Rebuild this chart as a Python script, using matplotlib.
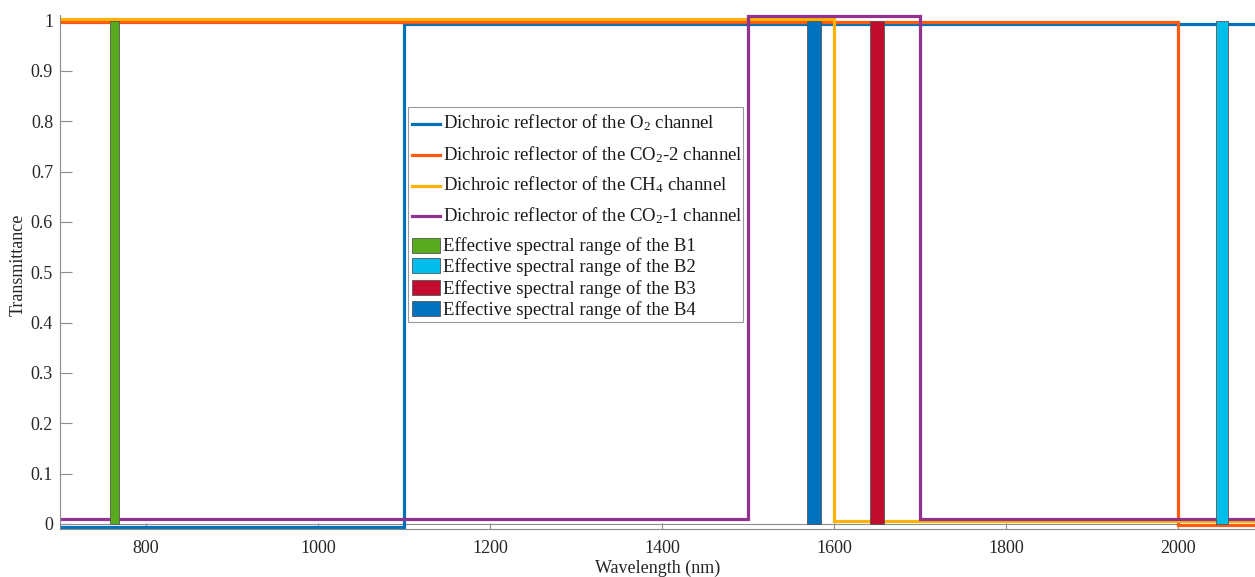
import matplotlib
matplotlib.use("Agg")
import matplotlib.pyplot as plt
from matplotlib.patches import Rectangle
from matplotlib.lines import Line2D

plt.rcParams['font.family'] = ['Liberation Serif', 'DejaVu Serif']
plt.rcParams['mathtext.fontset'] = 'custom'
plt.rcParams['mathtext.rm'] = 'Liberation Serif'
plt.rcParams['mathtext.it'] = 'Liberation Serif:italic'

# Step curves (wavelength breakpoints, transmittance levels)
o2_x = [700, 1100, 1100, 2100]
o2_y = [-0.006, -0.006, 0.994, 0.994]
co2_2_x = [700, 2000, 2000, 2100]
co2_2_y = [0.998, 0.998, -0.002, -0.002]
ch4_x = [700, 1600, 1600, 2100]
ch4_y = [1.003, 1.003, 0.005, 0.005]
co2_1_x = [700, 1500, 1500, 1700, 1700, 2100]
co2_1_y = [0.01, 0.01, 1.01, 1.01, 0.01, 0.01]

# Effective spectral ranges (start, end) and height
band_names = ['B1', 'B2', 'B3', 'B4']
band_start = [758, 2044, 1642, 1568]
band_end = [769, 2058, 1658, 1584]
band_height = [1.0, 1.0, 1.0, 1.0]
band_colors = ['#5AAA1F', '#00BEEB', '#C00D2E', '#0072BD']

xticks = [800, 1000, 1200, 1400, 1600, 1800, 2000]
yticks = [0, 0.1, 0.2, 0.3, 0.4, 0.5, 0.6, 0.7, 0.8, 0.9, 1]
ytick_labels = ['0', '0.1', '0.2', '0.3', '0.4', '0.5', '0.6', '0.7', '0.8', '0.9', '1']

line_labels = [r'Dichroic reflector of the O$_2$ channel',
               r'Dichroic reflector of the CO$_2$-2 channel',
               r'Dichroic reflector of the CH$_4$ channel',
               r'Dichroic reflector of the CO$_2$-1 channel']
line_colors = ['#0072BD', '#FF5A0F', '#FFB300', '#93318F']

W, H = 1255, 577
fig = plt.figure(figsize=(W / 100, H / 100), dpi=100)
ax = fig.add_axes([60 / W, 48 / H, (W - 60) / W, 528.5 / H])
ax.set_xlim(700, 2089)
ax.set_ylim(-0.01, 1.04)

grey = '#8c8c8c'
ax.axhline(0, color=grey, lw=0.8, zorder=1)

lw = 2.3
series = [(o2_x, o2_y), (co2_2_x, co2_2_y), (ch4_x, ch4_y), (co2_1_x, co2_1_y)]
for (x, y), c in zip(series, line_colors):
    ax.plot(x, y, color=c, lw=lw, zorder=2, solid_joinstyle='miter')

for s, e, h, c in zip(band_start, band_end, band_height, band_colors):
    ax.bar(s, h, width=e - s, align='edge', color=c, edgecolor='#555555',
           linewidth=0.6, zorder=3)

ax.spines['top'].set_visible(False)
ax.spines['right'].set_visible(False)
ax.spines['left'].set_color(grey)
ax.spines['left'].set_bounds(-0.01, 1.012)
ax.spines['bottom'].set_color(grey)
ax.set_xticks(xticks)
ax.set_yticks(yticks)
ax.set_yticklabels(ytick_labels)
ax.tick_params(axis='both', direction='in', colors=grey, labelcolor='#262626',
               labelsize=13, width=0.8)
ax.tick_params(axis='y', length=8.6, pad=5)
ax.tick_params(axis='x', length=4.5, pad=8)
ax.set_xlabel('Wavelength (nm)', fontsize=13, color='#262626', labelpad=2)
ax.set_ylabel('Transmittance', fontsize=13, color='#262626', labelpad=3)

# Legend (drawn manually, positions in figure pixels)
def fx(px):
    return px / W

def fy(py):
    return 1 - py / H

frame = Rectangle((fx(408), fy(321.5)), fx(743) - fx(408), fy(107) - fy(321.5),
                  transform=fig.transFigure, facecolor='white', edgecolor='#999999',
                  linewidth=0.8, zorder=10)
fig.add_artist(frame)

line_handle_y = [124, 155.5, 186, 216.5]
line_text_base = [128.5, 160, 190.5, 221]
for c, lab, hy, ty in zip(line_colors, line_labels, line_handle_y, line_text_base):
    fig.add_artist(Line2D([fx(412), fx(440)], [fy(hy), fy(hy)], color=c, lw=lw,
                          transform=fig.transFigure, zorder=11))
    fig.text(fx(443), fy(ty), lab, fontsize=13.5, color='#1a1a1a', va='baseline',
             ha='left', zorder=11)

patch_top = [237.5, 257.5, 279.5, 300.5]
patch_bot = [252.5, 273, 294.5, 315.5]
patch_text_base = [251, 271.5, 294, 315]
for c, n, pt, pb, ty in zip(band_colors, band_names, patch_top, patch_bot, patch_text_base):
    fig.add_artist(Rectangle((fx(412), fy(pb)), fx(440.5) - fx(412), fy(pt) - fy(pb),
                             transform=fig.transFigure, facecolor=c,
                             edgecolor='#555555', linewidth=0.6, zorder=11))
    fig.text(fx(443), fy(ty), 'Effective spectral range of the ' + n, fontsize=13.5,
             color='#1a1a1a', va='baseline', ha='left', zorder=11)

fig.savefig('out.png', dpi=100)
